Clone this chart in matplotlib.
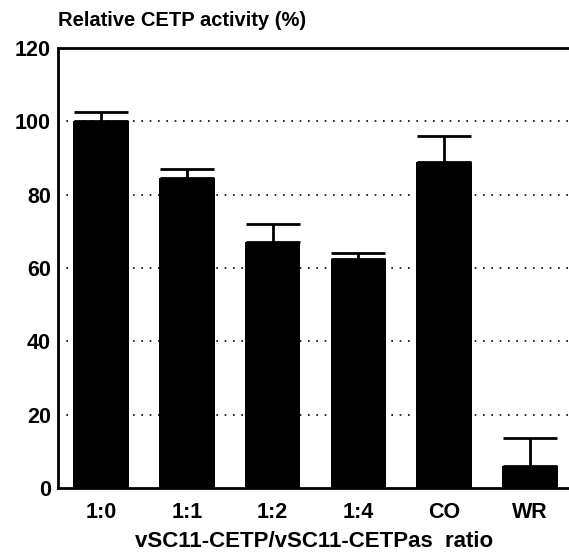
import matplotlib.pyplot as plt
import numpy as np

plt.rcParams['font.family'] = ['Liberation Sans', 'DejaVu Sans']

groups = ['1:0', '1:1', '1:2', '1:4', 'CO', 'WR']
activity = [100, 84.5, 67, 62.5, 89, 6]
sem = [2.5, 2.5, 5, 1.5, 7, 7.7]

fig = plt.figure(figsize=(5.69, 5.59), dpi=100)
ax = fig.add_axes([0.102, 0.127, 0.905, 0.787])

x = np.arange(len(groups))
lower = np.zeros(len(sem))
ax.bar(x, activity, width=0.65, color='black', zorder=3)
ax.errorbar(x, activity, yerr=[lower, sem], fmt='none', ecolor='black',
            elinewidth=2, capsize=19.5, capthick=2, zorder=2)

for y in [20, 40, 60, 80, 100]:
    ax.axhline(y, color='black', linestyle=(0, (1, 4)), linewidth=1.2, zorder=1)

ax.set_xlim(-0.5, 5.5)
ax.set_ylim(0, 120)
ax.set_yticks([0, 20, 40, 60, 80, 100, 120])
ax.set_xticks(x)
ax.set_xticklabels(groups)
ax.tick_params(length=0, labelsize=15.5)
ax.tick_params(axis='y', pad=5)
ax.tick_params(axis='x', pad=10)
for lab in ax.get_xticklabels() + ax.get_yticklabels():
    lab.set_fontweight('bold')

ax.spines['right'].set_visible(False)
for s in ['left', 'bottom', 'top']:
    ax.spines[s].set_linewidth(2)

fig.text(0.102, 0.963, 'Relative CETP activity (%)', fontsize=14.5,
         fontweight='bold', ha='left', va='center')
fig.text(0.552, 0.032, 'vSC11-CETP/vSC11-CETPas  ratio', fontsize=16,
         fontweight='bold', ha='center', va='center')

fig.savefig('out.png', dpi=100)
